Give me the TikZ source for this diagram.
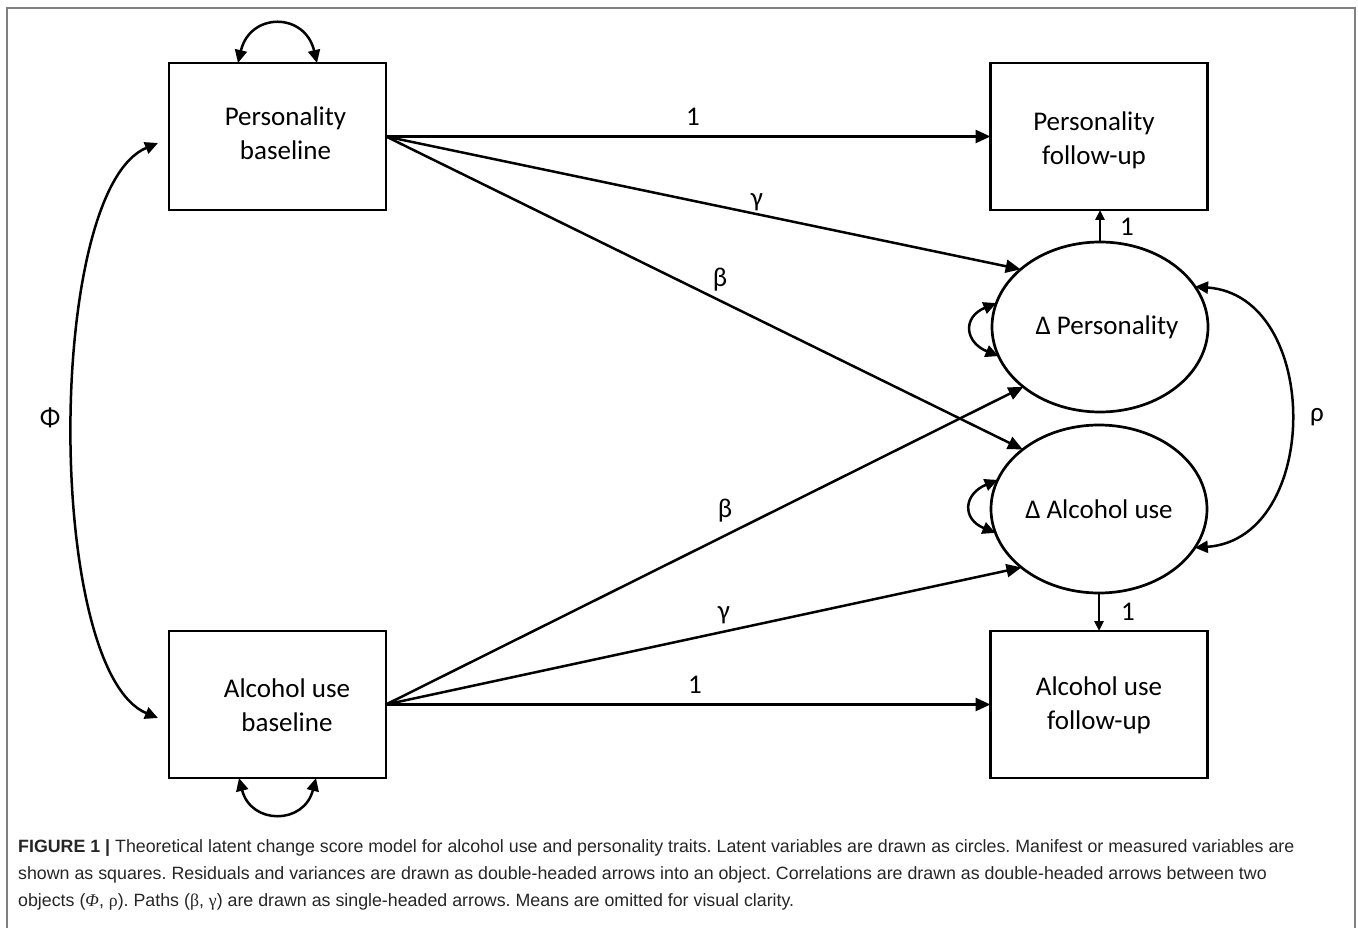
\documentclass[tikz,border=0pt]{standalone}
\usepackage{fontspec}
\setmainfont{Carlito}
\newfontfamily\capfont{Liberation Sans}
\newfontfamily\capserif{Liberation Serif}
\usetikzlibrary{arrows.meta,shapes.geometric}
\frenchspacing
\begin{document}
\begin{tikzpicture}[x=1pt,y=-1pt,
  every node/.style={font=\fontsize{27}{34}\selectfont},
  box/.style={draw, line width=2.7pt, minimum width=217pt, minimum height=147pt, inner sep=0pt, outer sep=0pt},
  lat/.style={draw, ellipse, line width=2.7pt, minimum width=216pt, minimum height=170pt, inner sep=0pt, outer sep=0pt},
  txt/.style={align=center, inner sep=0pt},
  arr/.style={line width=2.5pt, -{Triangle[length=15pt,width=13pt]}},
  sarr/.style={line width=2.5pt, -{Triangle[length=10pt,width=9pt]}},
  darr/.style={line width=2.5pt, {Triangle[length=13pt,width=12pt]}-{Triangle[length=13pt,width=12pt]}},
  lbl/.style={inner sep=0pt},
]
\useasboundingbox (0,0) rectangle (1358,928);
\fill[white] (0,0) rectangle (1358,928);
\draw[line width=1.5pt, gray] (7,940) -- (7,8) -- (1355,8) -- (1355,940);

% manifest variables
\node[box, label={[name=PBt, txt, xshift=8pt, yshift=3.5pt]center:Personality\\baseline}] (PB) at (277.5,136.5) {};
\node[box, label={[name=PFt, txt, xshift=-5pt, yshift=-3.5pt]center:Personality\\follow-up}] (PF) at (1099,136.5) {};
\node[box, label={[name=ABt, txt, xshift=9.5pt, yshift=-1pt]center:Alcohol use\\baseline}] (AB) at (277.5,704.5) {};
\node[box, label={[name=AFt, txt, yshift=-0.5pt]center:Alcohol use\\follow-up}] (AF) at (1099,704.5) {};

% latent variables
\node[lat, label={[name=dPt, txt, xshift=7pt]center:Δ Personality}] (dP) at (1100,327) {};
\node[lat, minimum height=168pt, label={[name=dAt, txt]center:Δ Alcohol use}] (dA) at (1099,509) {};

% paths
\draw[arr] (PB.east) -- (PB.east -| PF.west);
\draw[arr] (PB.east) -- (dP.144);
\draw[arr] (PB.east) -- (dA.142);
\draw[arr] (AB.east) -- (dP.218);
\draw[arr] (AB.east) -- (dA.217);
\draw[arr] (AB.east) -- (AB.east -| AF.west);
\draw[sarr] (dP.north) -- (dP.north |- PF.south);
\draw[sarr] (dA.south) -- (dA.south |- AF.north);

% variances
\draw[darr] ([xshift=69pt]PB.north west) .. controls +(12,-51) and +(-12,-51) .. ([xshift=148pt]PB.north west);
\draw[darr] ([xshift=70pt]AB.south west) .. controls +(12,47) and +(-12,47) .. ([xshift=147pt]AB.south west);
\draw[darr] (dP.167) .. controls +(-34,14) and +(-34,-14) .. (dP.196);
\draw[darr] (dA.164) .. controls +(-34,14) and +(-34,-14) .. (dA.193);

% correlations
\coordinate (phiA) at ([xshift=-11pt,yshift=-6.5pt]PB.west);
\coordinate (phiB) at ([xshift=-11pt,yshift=-13.5pt]AB.west);
\draw[darr] (phiA) .. controls +(-113,47) and +(-113,-47) .. (phiB);
\draw[darr] (dP.23) .. controls +(127,9) and +(127,-9) .. (dA.338);

% labels
\node[lbl] (w1) at (693,117) {1};
\node[lbl] (w2) at (695,685) {1};
\node[lbl] (wg1) at (757,202) {γ};
\node[lbl] (wb1) at (720,280) {β};
\node[lbl] (wb2) at (725,511) {β};
\node[lbl] (wg2) at (724,615) {γ};
\node[lbl] (w3) at (1127,227) {1};
\node[lbl] (w4) at (1128,612) {1};
\node[lbl] (rho) at (1317,417) {ρ};
\node[lbl] (phi) at (50,418) {Φ};

% caption
\node[anchor=west, align=left, inner sep=0pt, font=\capfont\fontsize{17.8}{27}\selectfont, text=black!85] (cap) at (18,875)
{\textbf{FIGURE 1 |} Theoretical latent change score model for alcohol use and personality traits. Latent variables are drawn as circles. Manifest or measured variables are\\
shown as squares. Residuals and variances are drawn as double-headed arrows into an object. Correlations are drawn as double-headed arrows between two\\
objects ({\capserif\itshape Φ}, {\capserif ρ}). Paths ({\capserif β}, {\capserif γ}) are drawn as single-headed arrows. Means are omitted for visual clarity.};
\end{tikzpicture}
\end{document}
